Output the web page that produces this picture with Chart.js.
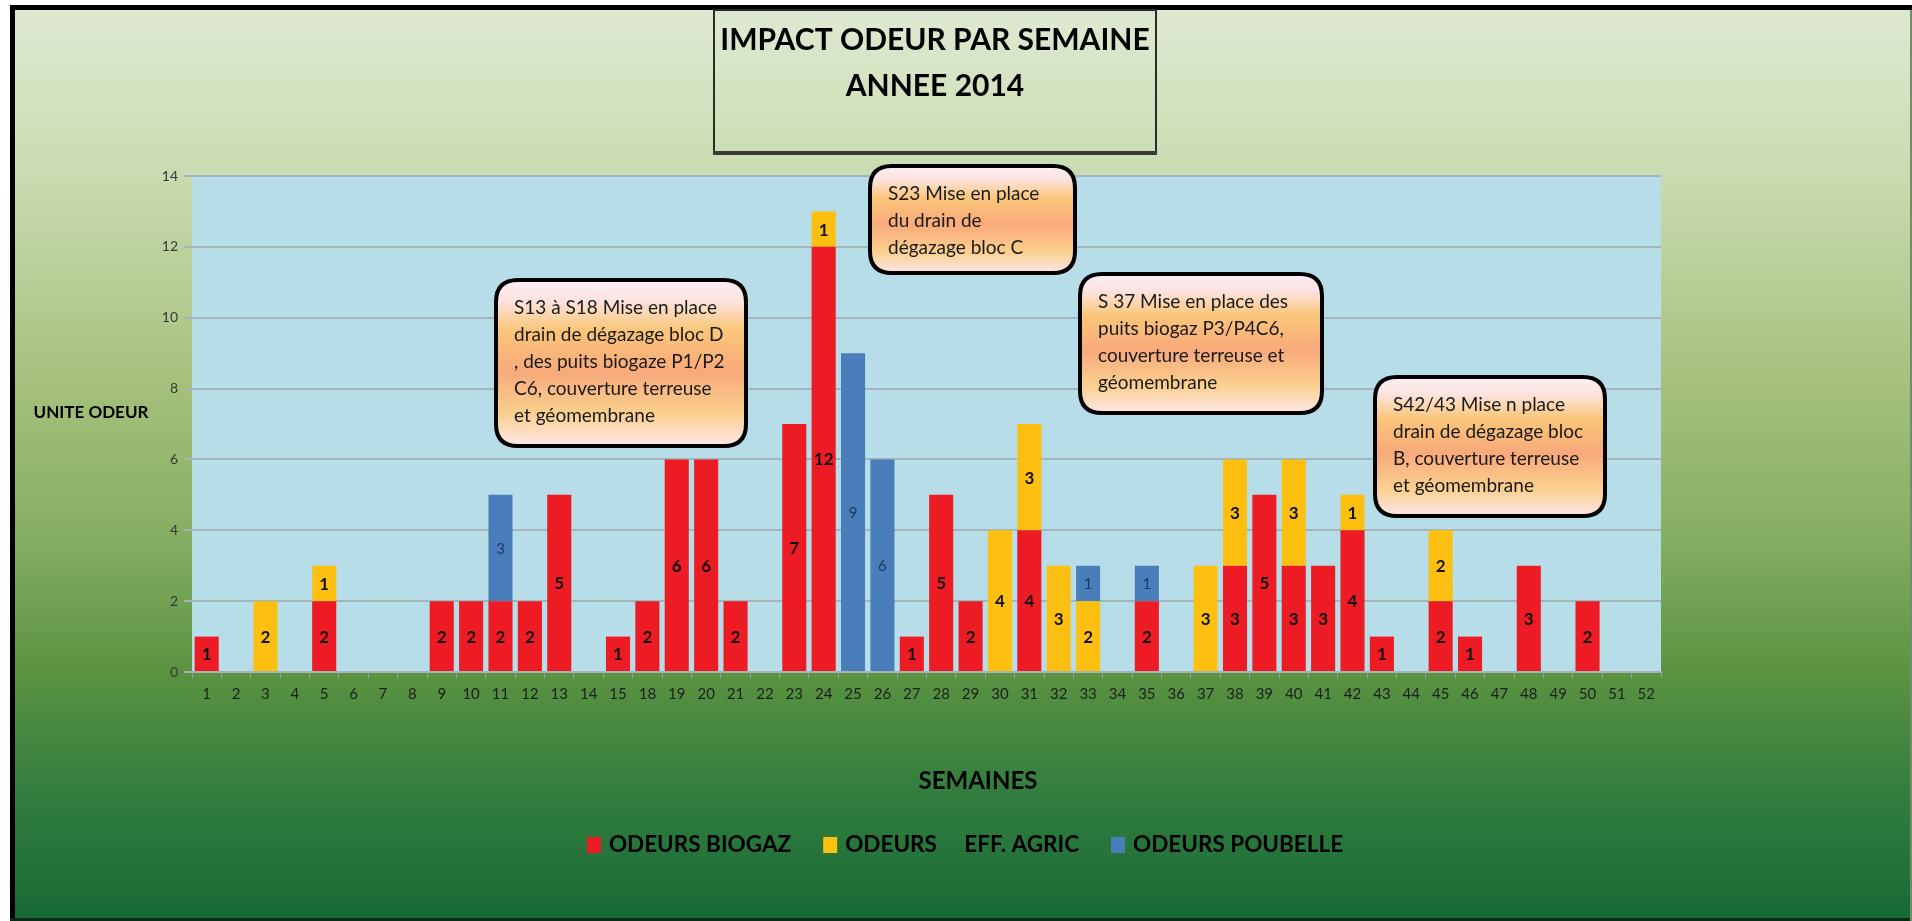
<!DOCTYPE html>
<html>
<head>
<meta charset="utf-8">
<script src="https://cdn.jsdelivr.net/npm/chart.js@4.4.0/dist/chart.umd.min.js"></script>
<style>
  html, body { margin: 0; padding: 0; background: #fff; }
  #wrap { width: 1912px; height: 921px; }
</style>
</head>
<body>
<div id="wrap"><canvas id="odeurChart" width="1912" height="921"></canvas></div>
<script>
// Semaines (16 et 17 absentes dans l'original)
const weeks = ['1','2','3','4','5','6','7','8','9','10','11','12','13','14','15',
  '18','19','20','21','22','23','24','25','26','27','28','29','30','31','32','33','34','35',
  '36','37','38','39','40','41','42','43','44','45','46','47','48','49','50','51','52'];

const biogaz = [1,0,0,0,2,0,0,0,2,2,2,2,5,0,1,
  2,6,6,2,0,7,12,0,0,1,5,2,0,4,0,0,0,2,
  0,0,3,5,3,3,4,1,0,2,1,0,3,0,2,0,0];

const agric = [0,0,2,0,1,0,0,0,0,0,0,0,0,0,0,
  0,0,0,0,0,0,1,0,0,0,0,0,4,3,3,2,0,0,
  0,3,3,0,3,0,1,0,0,2,0,0,0,0,0,0,0];

const poubelle = [0,0,0,0,0,0,0,0,0,0,3,0,0,0,0,
  0,0,0,0,0,0,0,9,6,0,0,0,0,0,0,1,0,1,
  0,0,0,0,0,0,0,0,0,0,0,0,0,0,0,0,0];

const seriesNames = ['ODEURS BIOGAZ', 'ODEURS     EFF. AGRIC', 'ODEURS POUBELLE'];
const yTicks = [0, 2, 4, 6, 8, 10, 12, 14];

const notes = [
  { lines: ['S13 à S18 Mise en place', 'drain de dégazage bloc D', ', des puits biogaze P1/P2', 'C6, couverture terreuse', 'et géomembrane'],
    x: 496, y: 280, w: 250, h: 166 },
  { lines: ['S23 Mise en place', 'du drain de', 'dégazage bloc C'],
    x: 870, y: 166, w: 205, h: 107 },
  { lines: ['S 37 Mise en place des', 'puits biogaz P3/P4C6,', 'couverture terreuse et', 'géomembrane'],
    x: 1080, y: 274, w: 242, h: 139 },
  { lines: ['S42/43 Mise n place', 'drain de dégazage bloc', 'B, couverture terreuse', 'et géomembrane'],
    x: 1375, y: 377, w: 230, h: 139 }
];

const FONT = "Lato, 'Open Sans', sans-serif";
const colors = ['#ed1c24', '#fdc010', '#4a7ebb'];

function roundRect(ctx, x, y, w, h, r) {
  ctx.beginPath();
  ctx.moveTo(x + r, y);
  ctx.lineTo(x + w - r, y);
  ctx.quadraticCurveTo(x + w, y, x + w, y + r);
  ctx.lineTo(x + w, y + h - r);
  ctx.quadraticCurveTo(x + w, y + h, x + w - r, y + h);
  ctx.lineTo(x + r, y + h);
  ctx.quadraticCurveTo(x, y + h, x, y + h - r);
  ctx.lineTo(x, y + r);
  ctx.quadraticCurveTo(x, y, x + r, y);
  ctx.closePath();
}

// fond dégradé + cadre + zone de tracé
const backgroundPlugin = {
  id: 'backgroundPlugin',
  beforeDraw(chart) {
    const ctx = chart.ctx;
    const area = chart.chartArea;
    ctx.save();
    ctx.fillStyle = '#ffffff';
    ctx.fillRect(0, 0, chart.width, chart.height);
    let g = ctx.createLinearGradient(0, 8, 0, 918);
    g.addColorStop(0, '#dfe9d2');
    g.addColorStop(0.18, '#cadcb1');
    g.addColorStop(0.42, '#a4c07b');
    g.addColorStop(0.58, '#86ae62');
    g.addColorStop(0.73, '#5b9341');
    g.addColorStop(0.86, '#337e3f');
    g.addColorStop(1, '#186a36');
    ctx.fillStyle = g;
    ctx.fillRect(10, 5, chart.width - 10, chart.height - 5);
    // cadre
    ctx.fillStyle = '#000';
    ctx.fillRect(10, 5, chart.width - 10, 5);
    ctx.fillRect(10, 5, 5, chart.height - 5);
    ctx.fillStyle = '#0b2a12';
    ctx.fillRect(10, chart.height - 3, chart.width - 10, 3);
    ctx.fillStyle = '#6f8f6a';
    ctx.fillRect(chart.width - 2, 10, 2, chart.height - 10);
    // zone de tracé
    ctx.fillStyle = '#b7dde8';
    ctx.fillRect(area.left, area.top, area.right - area.left, area.bottom - area.top);
    ctx.restore();
  }
};

// étiquettes de valeurs au centre des segments
const valueLabels = {
  id: 'valueLabels',
  afterDatasetsDraw(chart) {
    const ctx = chart.ctx;
    ctx.save();
    ctx.textAlign = 'center';
    ctx.textBaseline = 'middle';
    chart.data.datasets.forEach((ds, i) => {
      const meta = chart.getDatasetMeta(i);
      meta.data.forEach((bar, j) => {
        const v = ds.data[j];
        if (!v) return;
        const p = bar.getProps(['x', 'y', 'base'], true);
        if (i === 2) {
          ctx.font = '15px ' + FONT;
          ctx.fillStyle = '#22395e';
        } else {
          ctx.font = 'bold 17px ' + FONT;
          ctx.fillStyle = '#111';
        }
        ctx.fillText(String(v), p.x, (p.y + p.base) / 2 + 1);
      });
    });
    ctx.restore();
  }
};

// titre, titres d'axes, légende, encadrés
const decorations = {
  id: 'decorations',
  afterDraw(chart) {
    const ctx = chart.ctx;
    ctx.save();

    // boîte du titre
    ctx.strokeStyle = '#2b2b2b';
    ctx.lineWidth = 2;
    ctx.strokeRect(714, 10, 442, 142);
    ctx.fillStyle = '#3a3a3a';
    ctx.fillRect(713, 151, 444, 4);
    ctx.fillStyle = '#000';
    ctx.textAlign = 'center';
    ctx.textBaseline = 'middle';
    ctx.font = 'bold 30px ' + FONT;
    ctx.fillText('IMPACT ODEUR PAR SEMAINE', 935, 40);
    ctx.fillText('ANNEE 2014', 935, 86);

    // titres d'axes
    ctx.font = 'bold 17px ' + FONT;
    ctx.fillText('UNITE ODEUR', 91, 413);
    ctx.font = 'bold 24px ' + FONT;
    ctx.fillText('SEMAINES', 978, 781);

    // légende
    ctx.font = 'bold 22.5px ' + FONT;
    ctx.textAlign = 'left';
    const box = 14, gapIn = 8, gapOut = 32;
    let total = 0;
    seriesNames.forEach((n, i) => {
      total += box + gapIn + ctx.measureText(n).width + (i < seriesNames.length - 1 ? gapOut : 0);
    });
    let lx = 965 - total / 2;
    const ly = 845;
    seriesNames.forEach((n, i) => {
      ctx.fillStyle = colors[i];
      ctx.fillRect(lx, ly - 8, box, 16);
      lx += box + gapIn;
      ctx.fillStyle = '#000';
      ctx.fillText(n, lx, ly);
      lx += ctx.measureText(n).width + gapOut;
    });

    // encadrés
    notes.forEach(n => {
      let g = ctx.createLinearGradient(0, n.y, 0, n.y + n.h);
      g.addColorStop(0, '#fdeef3');
      g.addColorStop(0.12, '#fde4e2');
      g.addColorStop(0.3, '#fac679');
      g.addColorStop(0.55, '#f8a97b');
      g.addColorStop(0.8, '#fbcf8e');
      g.addColorStop(1, '#fde6e8');
      roundRect(ctx, n.x, n.y, n.w, n.h, 22);
      ctx.fillStyle = g;
      ctx.fill();
      ctx.lineWidth = 4;
      ctx.strokeStyle = '#000';
      ctx.stroke();
      ctx.fillStyle = '#1a1a1a';
      ctx.font = '19px ' + FONT;
      ctx.textAlign = 'left';
      n.lines.forEach((t, k) => {
        ctx.fillText(t, n.x + 18, n.y + 28 + k * 27);
      });
    });

    ctx.restore();
  }
};

const ctx = document.getElementById('odeurChart').getContext('2d');
new Chart(ctx, {
  type: 'bar',
  data: {
    labels: weeks,
    datasets: [
      { label: seriesNames[0], data: biogaz, backgroundColor: colors[0] },
      { label: seriesNames[1], data: agric, backgroundColor: colors[1] },
      { label: seriesNames[2], data: poubelle, backgroundColor: colors[2] }
    ]
  },
  options: {
    responsive: false,
    animation: false,
    devicePixelRatio: 1,
    layout: { padding: { left: 0, top: 176, right: 251, bottom: 0 } },
    datasets: {
      bar: { categoryPercentage: 1, barPercentage: 0.82, borderWidth: 0 }
    },
    plugins: {
      legend: { display: false },
      title: { display: false },
      tooltip: { enabled: false }
    },
    scales: {
      x: {
        stacked: true,
        afterFit: (scale) => { scale.height = 249; },
        grid: {
          offset: true,
          drawOnChartArea: false,
          tickLength: 6,
          color: '#8fa3a0'
        },
        border: { display: true, color: '#a3b4b8', width: 2 },
        ticks: {
          padding: 7,
          color: '#1e1e1e',
          font: { family: FONT, size: 15 },
          maxRotation: 0,
          autoSkip: false
        }
      },
      y: {
        stacked: true,
        min: 0,
        max: 14,
        afterFit: (scale) => { scale.width = 192; },
        afterBuildTicks: (scale) => { scale.ticks = yTicks.map(v => ({ value: v })); },
        grid: {
          color: '#a2b6be',
          lineWidth: 2,
          tickLength: 8
        },
        border: { display: false },
        ticks: {
          padding: 6,
          color: '#383838',
          font: { family: FONT, size: 14 }
        }
      }
    }
  },
  plugins: [backgroundPlugin, valueLabels, decorations]
});
</script>
</body>
</html>
